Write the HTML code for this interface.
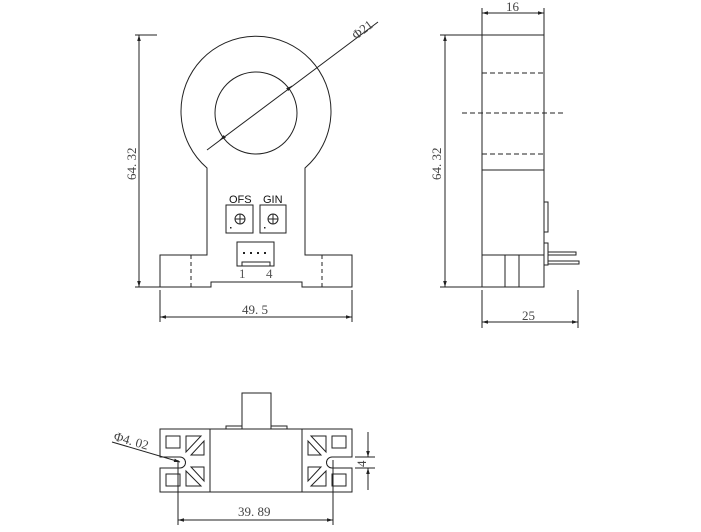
<!DOCTYPE html>
<html><head><style>body{margin:0;background:#fff}svg{display:block}</style></head><body>
<svg width="701" height="532" viewBox="0 0 701 532" xmlns="http://www.w3.org/2000/svg" font-family="Liberation Serif, serif" fill="none" stroke="#222" stroke-width="1">
<defs>
<marker id="a" viewBox="0 0 10 10" refX="10" refY="5" markerWidth="8" markerHeight="6" orient="auto-start-reverse"><path d="M0,2 L10,5 L0,8 Z" fill="#222" stroke="none"/></marker>
</defs>
<path d="M207,168 A75,75 0 1 1 305,168 L305,255 L352,255 L352,287 L302,287 L302,282 L211,282 L211,287 L160,287 L160,255 L207,255 Z"/>
<circle cx="256" cy="113" r="41"/>
<line x1="191" y1="255" x2="191" y2="287" stroke-dasharray="4,3"/>
<line x1="322" y1="255" x2="322" y2="287" stroke-dasharray="4,3"/>
<rect x="226" y="205" width="27" height="28"/>
<rect x="260" y="205" width="26" height="28"/>
<circle cx="240" cy="219" r="5"/><line x1="235" y1="219" x2="245" y2="219"/><line x1="240" y1="214" x2="240" y2="224"/>
<circle cx="273" cy="219" r="5"/><line x1="268" y1="219" x2="278" y2="219"/><line x1="273" y1="214" x2="273" y2="224"/>
<rect x="237" y="242" width="37" height="24"/>
<rect x="242" y="262" width="28" height="4"/>
<g fill="#222" stroke="none"><rect x="243" y="252" width="2" height="2"/><rect x="250" y="252" width="2" height="2"/><rect x="257" y="252" width="2" height="2"/><rect x="264" y="252" width="2" height="2"/><rect x="230" y="227" width="1.5" height="1.5"/><rect x="264" y="227" width="1.5" height="1.5"/></g>
<g fill="#111" stroke="none" font-family="Liberation Sans, sans-serif" font-size="11"><text x="229" y="203">OFS</text><text x="263" y="203">GIN</text></g>
<g fill="#555" stroke="none" font-size="13"><text x="239" y="278">1</text><text x="266" y="278">4</text></g>
<line x1="207" y1="150" x2="378" y2="22"/>
<line x1="224" y1="137" x2="220" y2="140" marker-end="url(#a)"/>
<line x1="288" y1="89" x2="292" y2="86" marker-end="url(#a)"/>
<text x="0" y="0" transform="translate(356,40) rotate(-37)" fill="#444" stroke="none" font-size="13">Φ21</text>
<line x1="135" y1="35" x2="157" y2="35"/><line x1="135" y1="287" x2="160" y2="287"/>
<line x1="139" y1="35" x2="139" y2="287" marker-start="url(#a)" marker-end="url(#a)"/>
<text transform="translate(136,180) rotate(-90)" fill="#444" stroke="none" font-size="13">64. 32</text>
<line x1="160" y1="290" x2="160" y2="322"/><line x1="352" y1="290" x2="352" y2="322"/>
<line x1="160" y1="317" x2="352" y2="317" marker-start="url(#a)" marker-end="url(#a)"/>
<text x="242" y="314" fill="#444" stroke="none" font-size="13">49. 5</text>
<rect x="482" y="35" width="62" height="252"/>
<line x1="482" y1="73" x2="544" y2="73" stroke-dasharray="5,3"/>
<line x1="462" y1="113" x2="564" y2="113" stroke-dasharray="5,3"/>
<line x1="482" y1="154" x2="544" y2="154" stroke-dasharray="5,3"/>
<line x1="482" y1="170" x2="544" y2="170"/>
<line x1="482" y1="255" x2="544" y2="255"/>
<line x1="505" y1="255" x2="505" y2="287"/><line x1="519" y1="255" x2="519" y2="287"/>
<rect x="544" y="202" width="4" height="30"/>
<rect x="544" y="243" width="4" height="22"/>
<rect x="548" y="252" width="28" height="3"/>
<rect x="548" y="261" width="31" height="3"/>
<line x1="482" y1="8" x2="482" y2="35"/><line x1="544" y1="8" x2="544" y2="35"/>
<line x1="482" y1="13" x2="544" y2="13" marker-start="url(#a)" marker-end="url(#a)"/>
<text x="506" y="11" fill="#444" stroke="none" font-size="13">16</text>
<line x1="440" y1="35" x2="482" y2="35"/><line x1="440" y1="287" x2="482" y2="287"/>
<line x1="445" y1="35" x2="445" y2="287" marker-start="url(#a)" marker-end="url(#a)"/>
<text transform="translate(441,180) rotate(-90)" fill="#444" stroke="none" font-size="13">64. 32</text>
<line x1="482" y1="290" x2="482" y2="328"/><line x1="578" y1="290" x2="578" y2="328"/>
<line x1="482" y1="322" x2="578" y2="322" marker-start="url(#a)" marker-end="url(#a)"/>
<text x="522" y="320" fill="#444" stroke="none" font-size="13">25</text>
<path d="M160,429 L352,429 L352,457 L332,457 A5.5,5.5 0 0 0 332,468 L352,468 L352,492 L160,492 L160,468 L180,468 A5.5,5.5 0 0 0 180,457 L160,457 Z"/>
<line x1="210" y1="429" x2="210" y2="492"/><line x1="302" y1="429" x2="302" y2="492"/>
<rect x="242" y="393" width="29" height="36"/>
<rect x="226" y="426" width="16" height="3"/><rect x="271" y="426" width="16" height="3"/>
<g id="L">
<rect x="166" y="436" width="14" height="12"/>
<rect x="166" y="474" width="14" height="12"/>
<path d="M186,436 L201,436 L186,452 Z"/>
<path d="M204,441 L204,455 L191,455 Z"/>
<path d="M186,486 L201,486 L186,471 Z"/>
<path d="M204,481 L204,467 L191,467 Z"/>
</g>
<use href="#L" transform="translate(512,0) scale(-1,1)"/>
<line x1="112" y1="442" x2="180" y2="462" marker-end="url(#a)"/>
<text transform="translate(113,440) rotate(16)" fill="#444" stroke="none" font-size="13">Φ4. 02</text>
<line x1="178" y1="460" x2="178" y2="525"/><line x1="333" y1="460" x2="333" y2="525"/>
<line x1="178" y1="520" x2="333" y2="520" marker-start="url(#a)" marker-end="url(#a)"/>
<text x="238" y="516" fill="#444" stroke="none" font-size="13">39. 89</text>
<line x1="355" y1="457" x2="375" y2="457"/><line x1="355" y1="468" x2="375" y2="468"/>
<line x1="368" y1="432" x2="368" y2="457" marker-end="url(#a)"/>
<line x1="368" y1="490" x2="368" y2="468" marker-end="url(#a)"/>
<text transform="translate(366,467) rotate(-90)" fill="#444" stroke="none" font-size="13">4</text>
</svg>
</body></html>
